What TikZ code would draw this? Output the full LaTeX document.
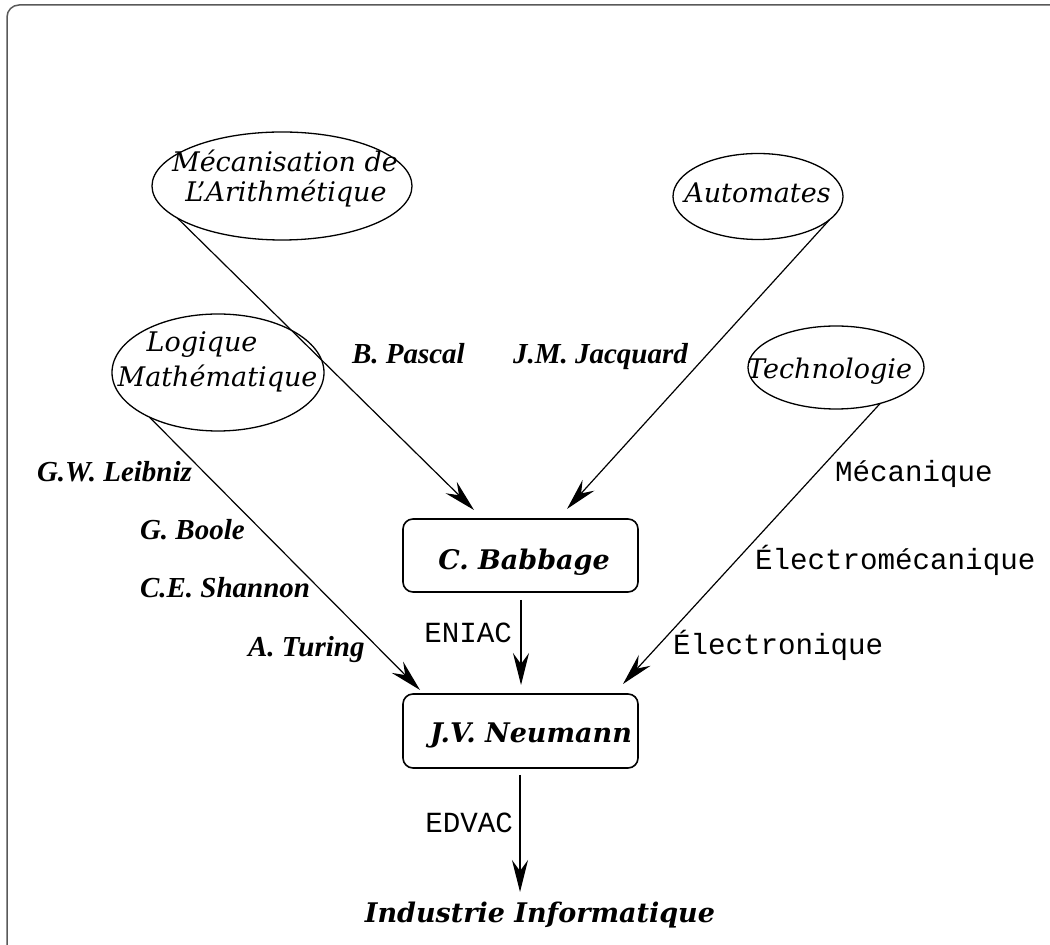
\documentclass[tikz,border=0pt]{standalone}
\usepackage{fontspec}
\setmainfont{DejaVu Serif}
\newfontfamily\timesf{Liberation Serif}
\newfontfamily\monof{Liberation Mono}
\usetikzlibrary{arrows.meta,shapes.geometric}
\tikzset{
  every node/.style={inner sep=0pt, outer sep=0pt},
  ell/.style={draw, ellipse, line width=0.65pt},
  rbox/.style={draw, rounded corners=5pt, line width=0.8pt, minimum width=117.5pt},
  arr/.style={line width=0.6pt, -{Stealth[length=16pt,width=8pt,inset=5.5pt]}},
  ital/.style={font=\fontsize{13.5}{15}\selectfont\itshape, anchor=base},
  pname/.style={font=\timesf\fontsize{14.5}{16}\selectfont\bfseries\itshape, anchor=base west},
  mono/.style={font=\monof\fontsize{14.6}{16}\selectfont, anchor=base west},
  big/.style={font=\fontsize{13.5}{15}\selectfont\bfseries\itshape, anchor=base},
  frame/.style={draw=black!65, line width=0.75pt, rounded corners=6pt}
}
\begin{document}
\begin{tikzpicture}[x=0.5pt, y=-0.5pt]
\useasboundingbox (0,0) rectangle (1050,945);
\draw[frame] (7,960) -- (7,5) -- (1060,5);

% ellipses
\node[ell, minimum width=130pt, minimum height=54pt] (mec) at (282,186) {};
\node[ell, minimum width=85pt, minimum height=43pt] (auto) at (758,196.5) {};
\node[ell, minimum width=106pt, minimum height=58.5pt] (log) at (218,372.5) {};
\node[ell, minimum width=88pt, minimum height=41.5pt] (tech) at (836,367.5) {};

\node[ital] (tmec1) at (285,172) {Mécanisation de};
\node[ital] (tmec2) at (286,202) {L’Arithmétique};
\node[ital] (tauto) at (757.5,203) {Automates};
\node[ital] (tlog1) at (202,352) {Logique};
\node[ital] (tlog2) at (217.5,387) {Mathématique};
\node[ital, anchor=base east] (ttech) at (912,379) {Technologie};

% boxes
\node[rbox, minimum height=36.5pt] (babbage) at (520.5,555.5) {};
\node[rbox, minimum height=37pt] (neumann) at (520.5,731) {};
\node[big] (tbab) at (524,570) {C. Babbage};
\node[big] (tneu) at (531,743) {J.V. Neumann};
\node[big] (ind) at (540,922) {Industrie Informatique};

% arrow tips
\coordinate (tipMec) at (474,510);
\coordinate (tipAuto) at (567,509);
\coordinate (tipLog) at (420,690);
\coordinate (tipTech) at (623,684);
\coordinate (tipEni) at (521,685);
\coordinate (tipEdv) at (520,892);

\draw[arr] (mec.197) -- (tipMec);
\draw[arr] (auto.342.6) -- (tipAuto);
\draw[arr] (log.213.5) -- (tipLog);
\draw[arr] (tech.321) -- (tipTech);
\draw[arr, shorten <=4pt] (babbage.south -| tipEni) -- (tipEni);
\draw[arr, shorten <=3.5pt] (neumann.south -| tipEdv) -- (tipEdv);

% names
\node[pname] (pascal) at (352,364) {B. Pascal};
\node[pname] (jacq) at (513,364) {J.M. Jacquard};
\node[pname] (leib) at (37,482) {G.W. Leibniz};
\node[pname] (boole) at (140,540) {G. Boole};
\node[pname] (shan) at (140,598) {C.E. Shannon};
\node[pname] (tur) at (248,657) {A. Turing};

% technology labels
\node[mono] (meca) at (835,482) {Mécanique};
\node[mono] (elme) at (755,570) {Électromécanique};
\node[mono] (elec) at (673,655) {Électronique};
\node[mono, anchor=base east] (eniac) at (512,643) {ENIAC};
\node[mono, anchor=base east] (edvac) at (513,833) {EDVAC};
\end{tikzpicture}
\end{document}
